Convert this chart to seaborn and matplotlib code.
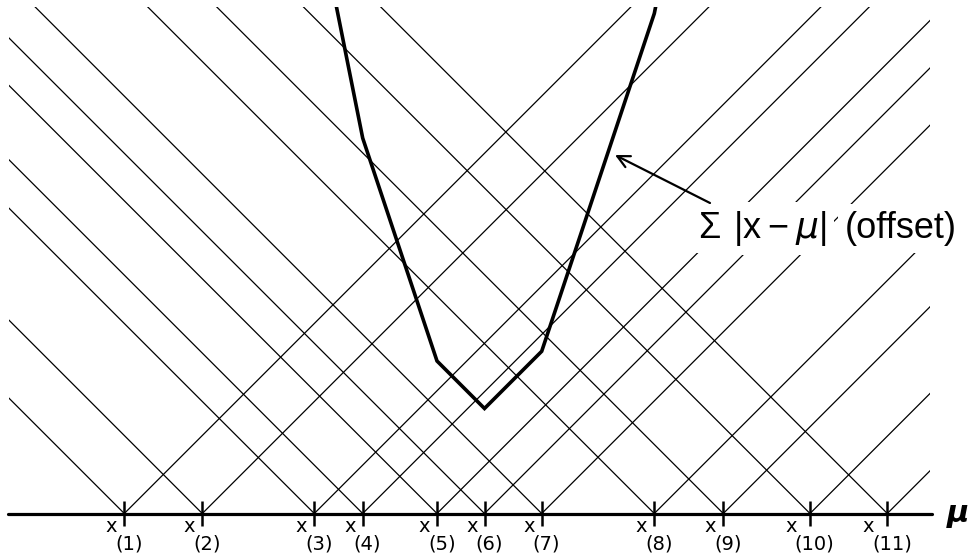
import numpy as np
import pandas as pd
import seaborn as sns
import matplotlib.pyplot as plt
from matplotlib.patches import Rectangle

# dados -------------------------------------------------------------------------
# posicoes das estatisticas de ordem x(1) ... x(11) no eixo mu
x_pts = [1.243, 2.023, 3.143, 3.627, 4.370, 4.845, 5.417, 6.543, 7.233, 8.100, 8.873]
x_labels = ['(1)', '(2)', '(3)', '(4)', '(5)', '(6)', '(7)', '(8)', '(9)', '(10)', '(11)']
curve_min = 1.05      # altura do minimo da soma depois do deslocamento

# |x_i - mu| para cada ponto (formato longo p/ seaborn)
linhas = []
for i, xi in enumerate(x_pts):
    for mu in (xi - 6, xi, xi + 6):
        linhas.append({'pt': i, 'mu': mu, 'dist': abs(mu - xi)})
df_v = pd.DataFrame(linhas)

# soma |x - mu| com deslocamento
mu_c = np.unique(np.concatenate([[2.5, 7.5], x_pts]))
mu_c = mu_c[(mu_c >= 2.5) & (mu_c <= 7.5)]
soma = np.abs(np.subtract.outer(mu_c, x_pts)).sum(axis=1)
soma = soma - (soma.min() - curve_min)

# grafico -----------------------------------------------------------------------
sns.set_style('white')
plt.rcParams['text.color'] = 'black'
fig = plt.figure(figsize=(9.69, 5.54), dpi=100)
ax = fig.add_axes([0, 0, 1, 1])

sns.lineplot(data=df_v, x='mu', y='dist', units='pt', estimator=None,
             color='black', lw=0.9, ax=ax, legend=False)
sns.lineplot(x=mu_c, y=soma, estimator=None, color='black', lw=2.6, ax=ax)

ax.set_xlim(0, 9.69)
ax.set_ylim(-0.405, 5.135)
ax.axis('off')

clip = Rectangle((0.09, -0.01), 9.21, 5.075, transform=ax.transData)
for ln in ax.lines:
    ln.set_clip_path(clip)
    ln.set_solid_joinstyle('miter')

# eixo mu e marcas
ax.axhline(0, xmin=0.008, xmax=0.962, color='black', lw=2.3, zorder=4)
ax.vlines(x_pts, -0.125, 0.125, color='black', lw=1.8, zorder=4)
ax.text(9.47, -0.09, 'μ', fontsize=22, fontweight='bold', fontstyle='italic',
        family='DejaVu Sans', ha='left', va='baseline')

# rotulos x_(i)
fig.canvas.draw()
renderer = fig.canvas.get_renderer()
for xi, lab in zip(x_pts, x_labels):
    tx = ax.annotate('x', xy=(xi, 0), xytext=(0, -18), textcoords='offset pixels',
                     ha='left', va='baseline', fontsize=14)
    ts = ax.annotate(lab, xy=(xi, 0), xytext=(0, -36), textcoords='offset pixels',
                     ha='left', va='baseline', fontsize=14)
    wx = tx.get_window_extent(renderer).width
    ws = ts.get_window_extent(renderer).width
    total = wx + ws - 2
    tx.set_position((-total / 2, -18))
    ts.set_position((-total / 2 + wx - 2, -36))

# anotacao da soma
ax.annotate('', xy=(6.15, 3.585), xytext=(7.10, 3.105),
            arrowprops=dict(arrowstyle='->', lw=1.6, color='black',
                            mutation_scale=22, shrinkA=0, shrinkB=0))
caixa = dict(boxstyle='square,pad=0.2', fc='white', ec='none')
fonte = dict(fontsize=26, family='Liberation Sans', ha='left', va='baseline', zorder=6)
ax.text(6.98, 2.755, 'Σ', bbox=caixa, **fonte)
ax.text(7.33, 2.755, r'$\mathregular{|x-}\mu\mathregular{|}$', bbox=caixa, **fonte)
ax.text(8.45, 2.755, '(offset)', bbox=caixa, **fonte)

plt.savefig('out.png', dpi=100)
